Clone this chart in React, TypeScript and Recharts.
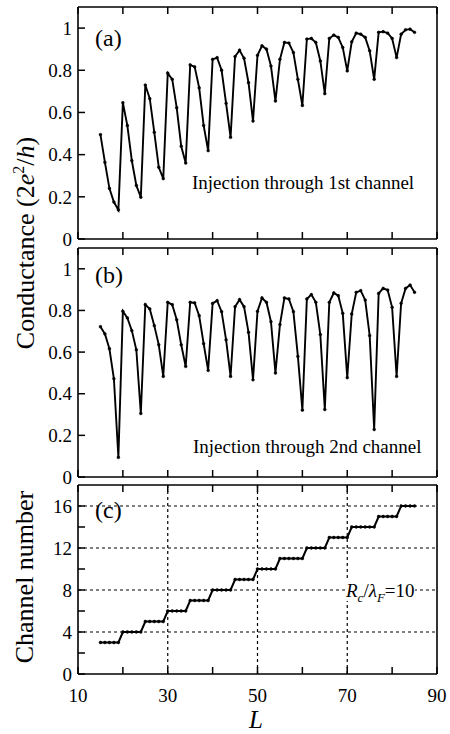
import React from "react";
import { LineChart, Line, XAxis, YAxis, ReferenceLine } from "recharts";

// L values (sampled at integers)
const lengths = [
  15, 16, 17, 18, 19, 20, 21, 22, 23, 24, 25, 26, 27, 28, 29, 30, 31, 32, 33, 34,
  35, 36, 37, 38, 39, 40, 41, 42, 43, 44, 45, 46, 47, 48, 49, 50, 51, 52, 53, 54,
  55, 56, 57, 58, 59, 60, 61, 62, 63, 64, 65, 66, 67, 68, 69, 70, 71, 72, 73, 74,
  75, 76, 77, 78, 79, 80, 81, 82, 83, 84, 85,
];

// (a) injection through 1st channel
const cond1st = [
  0.495, 0.363, 0.24, 0.175, 0.138, 0.646, 0.538, 0.371, 0.254, 0.198,
  0.73, 0.665, 0.506, 0.34, 0.286, 0.786, 0.757, 0.622, 0.44, 0.36,
  0.825, 0.816, 0.717, 0.538, 0.419, 0.852, 0.86, 0.8, 0.643, 0.482,
  0.865, 0.895, 0.857, 0.741, 0.559, 0.871, 0.916, 0.9, 0.82, 0.654,
  0.852, 0.932, 0.929, 0.884, 0.757, 0.633, 0.948, 0.951, 0.932, 0.844,
  0.689, 0.951, 0.967, 0.956, 0.908, 0.797, 0.935, 0.976, 0.971, 0.956,
  0.892, 0.757, 0.98, 0.983, 0.976, 0.951, 0.86, 0.971, 0.992, 0.995, 0.98,
];

// (b) injection through 2nd channel
const cond2nd = [
  0.722, 0.687, 0.616, 0.472, 0.094, 0.796, 0.764, 0.703, 0.611, 0.305,
  0.828, 0.807, 0.727, 0.635, 0.483, 0.839, 0.828, 0.755, 0.635, 0.531,
  0.839, 0.836, 0.775, 0.64, 0.512, 0.834, 0.847, 0.794, 0.659, 0.483,
  0.818, 0.852, 0.818, 0.695, 0.467, 0.796, 0.86, 0.839, 0.746, 0.499,
  0.732, 0.86, 0.855, 0.794, 0.579, 0.321, 0.855, 0.876, 0.839, 0.684,
  0.324, 0.839, 0.884, 0.871, 0.786, 0.477, 0.783, 0.887, 0.895, 0.85,
  0.679, 0.228, 0.882, 0.906, 0.898, 0.815, 0.483, 0.834, 0.906, 0.922, 0.887,
];

// (c) number of open channels
const channels = [
  3, 3, 3, 3, 3, 4, 4, 4, 4, 4, 5, 5, 5, 5, 5, 6, 6, 6, 6, 6,
  7, 7, 7, 7, 7, 8, 8, 8, 8, 8, 9, 9, 9, 9, 9, 10, 10, 10, 10, 10,
  11, 11, 11, 11, 11, 11, 12, 12, 12, 12, 12, 13, 13, 13, 13, 13, 14, 14, 14, 14,
  14, 14, 15, 15, 15, 15, 15, 16, 16, 16, 16,
];

const xTicks = [10, 20, 30, 40, 50, 60, 70, 80, 90];
const xLabelled = [10, 30, 50, 70, 90];
const condTicks = [0, 0.2, 0.4, 0.6, 0.8, 1];
const chanTicks = [0, 2, 4, 6, 8, 10, 12, 14, 16];
const chanLabelled = [0, 4, 8, 12, 16];
const gridY = [4, 8, 12, 16];
const gridX = [30, 50, 70];

const serif = "'Liberation Serif', 'DejaVu Serif', serif";
const tickStyle = { fontSize: 19, fill: "#000", fontFamily: serif };
const axisLine = { stroke: "#000", strokeWidth: 1.6 };
const tickLine = { stroke: "#000", strokeWidth: 1.5 };
const blank = () => "";

const rows = lengths.map((L, i) => ({
  L,
  a: cond1st[i],
  b: cond2nd[i],
  c: channels[i],
}));

function Frame({ yTicks, domain, yFmt, xFmt, bottomH, tickMarginX }: any) {
  return [
    <XAxis
      key="xb"
      xAxisId="b"
      dataKey="L"
      type="number"
      domain={[10, 90]}
      ticks={xTicks}
      interval={0}
      height={bottomH}
      tickSize={-7}
      tickMargin={tickMarginX}
      tick={tickStyle}
      tickFormatter={xFmt}
      axisLine={axisLine}
      tickLine={tickLine}
    />,
    <XAxis
      key="xt"
      xAxisId="t"
      orientation="top"
      dataKey="L"
      type="number"
      domain={[10, 90]}
      ticks={xTicks}
      interval={0}
      height={5}
      tickSize={-7}
      tickFormatter={blank}
      axisLine={axisLine}
      tickLine={tickLine}
    />,
    <YAxis
      key="yl"
      yAxisId="l"
      type="number"
      domain={domain}
      ticks={yTicks}
      interval={0}
      width={70}
      tickSize={-7}
      tickMargin={13}
      tick={tickStyle}
      tickFormatter={yFmt}
      axisLine={axisLine}
      tickLine={tickLine}
    />,
    <YAxis
      key="yr"
      yAxisId="r"
      orientation="right"
      type="number"
      domain={domain}
      ticks={yTicks}
      interval={0}
      width={5}
      tickSize={-7}
      tickFormatter={blank}
      axisLine={axisLine}
      tickLine={tickLine}
    />,
  ];
}

const dot = { r: 1.4, fill: "#000", stroke: "#000", strokeWidth: 0.5 };

function Note({ left, top, size, children, italic }: any) {
  return (
    <div
      style={{
        position: "absolute",
        left,
        top,
        fontSize: size,
        fontFamily: serif,
        fontStyle: italic ? "italic" : "normal",
        lineHeight: 1,
        whiteSpace: "nowrap",
        color: "#000",
      }}
    >
      {children}
    </div>
  );
}

function VLabel({ cx, cy, children }: any) {
  return (
    <div
      style={{
        position: "absolute",
        left: cx,
        top: cy,
        transform: "translate(-50%, -50%) rotate(-90deg)",
        fontSize: 26,
        fontFamily: serif,
        lineHeight: 1,
        whiteSpace: "nowrap",
        color: "#000",
      }}
    >
      {children}
    </div>
  );
}

export default function App() {
  const condFmt = (v: number) => String(v);
  const chanFmt = (v: number) => (chanLabelled.includes(v) ? String(v) : "");
  const xFmt = (v: number) => (xLabelled.includes(v) ? String(v) : "");
  return (
    <div style={{ position: "absolute", left: 0, top: 0, width: 450, height: 734, background: "#fff" }}>
      <div style={{ position: "absolute", left: 0, top: 0 }}>
        <LineChart width={450} height={252} data={rows} margin={{ top: 2, right: 8, bottom: 8, left: 8 }}>
          {Frame({ yTicks: condTicks, domain: [0, 1.1], yFmt: condFmt, xFmt: blank, bottomH: 5, tickMarginX: 0 })}
          <Line xAxisId="b" yAxisId="l" dataKey="a" stroke="#000" strokeWidth={1.9} dot={dot} isAnimationActive={false} />
        </LineChart>
      </div>
      <div style={{ position: "absolute", left: 0, top: 240 }}>
        <LineChart width={450} height={250} data={rows} margin={{ top: 3, right: 8, bottom: 8, left: 8 }}>
          {Frame({ yTicks: condTicks, domain: [0, 1.1], yFmt: condFmt, xFmt: blank, bottomH: 5, tickMarginX: 0 })}
          <Line xAxisId="b" yAxisId="l" dataKey="b" stroke="#000" strokeWidth={1.9} dot={dot} isAnimationActive={false} />
        </LineChart>
      </div>
      <div style={{ position: "absolute", left: 0, top: 478 }}>
        <LineChart width={450} height={256} data={rows} margin={{ top: 2, right: 8, bottom: 0, left: 8 }}>
          {Frame({ yTicks: chanTicks, domain: [0, 18], yFmt: chanFmt, xFmt, bottomH: 60, tickMarginX: 22 })}
          {gridY.map((v) => (
            <ReferenceLine key={"gy" + v} xAxisId="b" yAxisId="l" y={v} stroke="#000" strokeWidth={1.2} strokeDasharray="3 3" />
          ))}
          {gridX.map((v) => (
            <ReferenceLine key={"gx" + v} xAxisId="b" yAxisId="l" x={v} stroke="#000" strokeWidth={1.2} strokeDasharray="3 3" />
          ))}
          <Line xAxisId="b" yAxisId="l" dataKey="c" stroke="#000" strokeWidth={2} dot={dot} isAnimationActive={false} />
        </LineChart>
      </div>

      <Note left={95} top={26} size={24}>(a)</Note>
      <Note left={95} top={263} size={24}>(b)</Note>
      <Note left={95} top={498} size={24}>(c)</Note>
      <Note left={192} top={173} size={19}>Injection through 1st channel</Note>
      <Note left={193} top={437} size={19}>Injection through 2nd channel</Note>
      <Note left={346} top={581} size={19}>
        <span style={{ background: "#fff" }}>
          <i>R</i><sub style={{ fontSize: 13 }}><i>c</i></sub>/<i>λ</i><sub style={{ fontSize: 13 }}><i>F</i></sub>=10
        </span>
      </Note>
      <Note left={249} top={707} size={25} italic>L</Note>

      <VLabel cx={25} cy={243}>
        Conductance (2<i>e</i><sup style={{ fontSize: 16 }}>2</sup>/<i>h</i>)
      </VLabel>
      <VLabel cx={25} cy={577}>Channel number</VLabel>
    </div>
  );
}
